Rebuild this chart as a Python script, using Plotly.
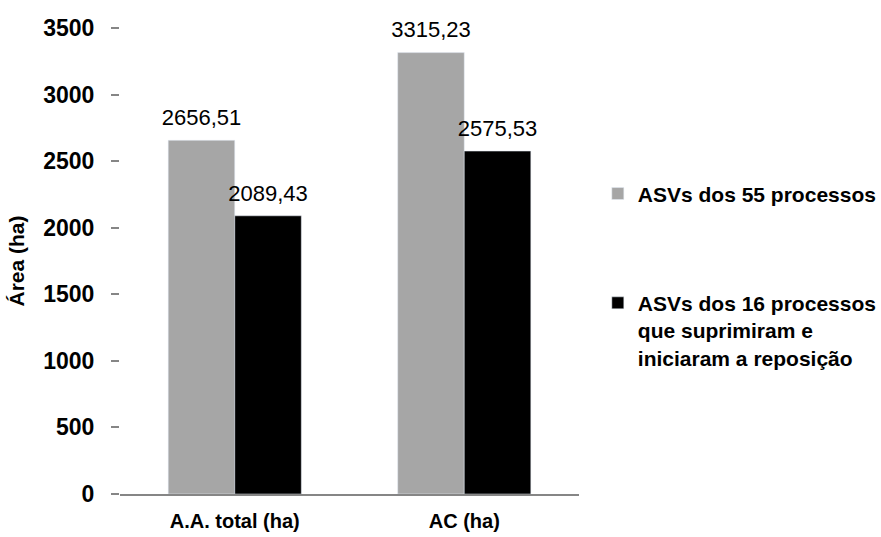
import plotly.graph_objects as go

categories = ["A.A. total (ha)", "AC (ha)"]
series_names = ["ASVs dos 55 processos",
                "ASVs dos 16 processos<br>que suprimiram e<br>iniciaram a reposição"]
values_55 = [2656.51, 3315.23]
values_16 = [2089.43, 2575.53]
colors = ["#A6A6A6", "#000000"]
y_ticks = [0, 500, 1000, 1500, 2000, 2500, 3000, 3500]

FONT = "Liberation Sans"
fig = go.Figure()
for i, (name, vals, col) in enumerate(zip(series_names, [values_55, values_16], colors)):
    fig.add_trace(go.Bar(
        x=categories, y=vals, name=name, marker_color=col,
        offsetgroup=str(i), legendgroup=str(i), hoverinfo="skip",
    ))
for i, vals in enumerate([values_55, values_16]):
    fig.add_trace(go.Scatter(
        x=categories, y=vals, mode="markers+text",
        marker=dict(size=14, color="rgba(0,0,0,0)"),
        text=[f"{v:.2f}".replace(".", ",") for v in vals],
        textposition="top center",
        textfont=dict(family=FONT, size=22, color="#000000"),
        offsetgroup=str(i), showlegend=False, hoverinfo="skip", cliponaxis=False,
    ))

fig.update_layout(
    width=881, height=537,
    margin=dict(l=120, r=302, t=28, b=43, autoexpand=False),
    paper_bgcolor="white", plot_bgcolor="white",
    barmode="group", bargap=0.42, bargroupgap=0,
    scattermode="group", scattergap=0.42,
    font=dict(family=FONT, color="#000000"),
    showlegend=True,
    legend=dict(
        x=1.041, xanchor="left", y=0.688, yanchor="top",
        font=dict(family=FONT, size=21, color="#000000", weight="bold"),
        tracegroupgap=79, traceorder="grouped", valign="top",
        bgcolor="rgba(0,0,0,0)",
    ),
    xaxis=dict(
        showline=True, linecolor="#868686", linewidth=2, ticks="",
        showgrid=False, zeroline=False,
        tickfont=dict(family=FONT, size=20, color="#000000", weight="bold"),
        ticklabelstandoff=8,
    ),
    yaxis=dict(
        range=[0, 3500], tickvals=y_ticks, tickformat="d",
        showline=False, showgrid=False, zeroline=False,
        ticks="outside", ticklen=8, tickcolor="#868686", tickwidth=2,
        tickfont=dict(family=FONT, size=23, color="#000000", weight="bold"),
        ticklabelstandoff=12,
        title=dict(text="Área (ha)", font=dict(family=FONT, size=21, color="#000000", weight="bold"), standoff=12),
    ),
)

fig.write_html("out.html", config={"displayModeBar": False},
               post_script=["document.body.style.margin='0';document.body.style.overflow='hidden';"])
